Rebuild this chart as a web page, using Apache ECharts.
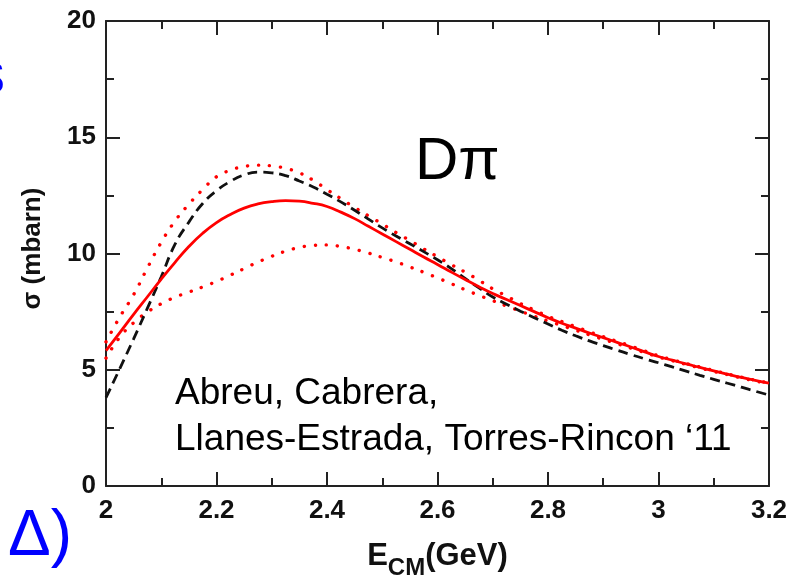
<!DOCTYPE html>
<html>
<head>
<meta charset="utf-8">
<script src="https://cdn.jsdelivr.net/npm/echarts@6/dist/echarts.min.js"></script>
<style>
html,body{margin:0;padding:0;background:#fff;}
#c{width:798px;height:578px;}
</style>
</head>
<body>
<div id="c"></div>
<script>
// Energies E_CM (GeV), 2.000 ... 3.200 in steps of 0.025
var energies = [2.000,2.025,2.050,2.075,2.100,2.125,2.150,2.175,2.200,2.225,2.250,2.275,2.300,2.325,2.350,2.375,2.400,2.425,2.450,2.475,2.500,2.525,2.550,2.575,2.600,2.625,2.650,2.675,2.700,2.725,2.750,2.775,2.800,2.825,2.850,2.875,2.900,2.925,2.950,2.975,3.000,3.025,3.050,3.075,3.100,3.125,3.150,3.175,3.200];
// Cross sections sigma (mbarn)
var solidRed    = [5.82,6.6,7.38,8.14,8.9,9.62,10.3,10.87,11.33,11.68,11.95,12.13,12.23,12.27,12.25,12.16,12.02,11.78,11.5,11.17,10.84,10.51,10.18,9.85,9.53,9.2,8.88,8.57,8.28,8.02,7.76,7.5,7.24,7.0,6.79,6.58,6.38,6.18,5.98,5.77,5.57,5.41,5.25,5.1,4.95,4.81,4.67,4.54,4.42];
var dashedBlack = [3.8,5.05,6.33,7.65,9.0,10.4,11.35,12.15,12.7,13.1,13.38,13.5,13.47,13.35,13.12,12.86,12.55,12.22,11.86,11.48,11.1,10.75,10.42,10.08,9.73,9.35,8.93,8.52,8.13,7.82,7.52,7.24,6.97,6.7,6.46,6.24,6.04,5.84,5.65,5.47,5.3,5.12,4.94,4.76,4.59,4.42,4.25,4.08,3.91];
var dottedUpper = [6.2,7.27,8.23,9.38,10.48,11.4,12.12,12.75,13.3,13.58,13.74,13.8,13.77,13.66,13.47,13.15,12.75,12.36,11.98,11.62,11.27,10.9,10.56,10.2,9.86,9.52,9.2,8.85,8.48,8.17,7.85,7.57,7.3,7.07,6.85,6.63,6.42,6.22,6.02,5.81,5.6,5.43,5.27,5.12,4.97,4.82,4.68,4.55,4.43];
var dottedLower = [5.5,6.4,7.02,7.48,7.84,8.12,8.34,8.56,8.8,9.07,9.35,9.63,9.88,10.1,10.26,10.35,10.37,10.3,10.18,10.02,9.83,9.64,9.42,9.19,8.95,8.7,8.44,8.2,7.97,7.74,7.52,7.3,7.1,6.9,6.7,6.5,6.31,6.12,5.93,5.74,5.55,5.39,5.23,5.08,4.93,4.79,4.65,4.52,4.4];
var xTicks = {min: 2, max: 3.2, interval: 0.2};
var yTicks = {min: 0, max: 20, interval: 5};

function pairs(ys){ return energies.map(function(x,i){ return [x, ys[i]]; }); }

var FONT = '"Liberation Sans", Arial, Helvetica, sans-serif';
var axisCol = '#222';

function xAxisDef(pos, showLabel){
  return {
    type:'value', position:pos, min:xTicks.min, max:xTicks.max, interval:xTicks.interval,
    axisLine:{show:true, onZero:false, lineStyle:{color:axisCol, width:2}},
    axisTick:{show:true, inside:true, length:14, lineStyle:{color:axisCol, width:2}},
    minorTick:{show:true, splitNumber:2, length:8, lineStyle:{color:axisCol, width:2}},
    splitLine:{show:false}, minorSplitLine:{show:false},
    axisLabel:{show:showLabel, margin:12, color:'#111', fontFamily:FONT, fontWeight:'bold', fontSize:26,
      formatter:function(v){ return String(Math.round(v*10)/10); }}
  };
}
function yAxisDef(pos, showLabel){
  return {
    type:'value', position:pos, min:yTicks.min, max:yTicks.max, interval:yTicks.interval,
    axisLine:{show:true, onZero:false, lineStyle:{color:axisCol, width:2}},
    axisTick:{show:true, inside:true, length:14, lineStyle:{color:axisCol, width:2}},
    minorTick:{show:true, splitNumber:2, length:8, lineStyle:{color:axisCol, width:2}},
    splitLine:{show:false}, minorSplitLine:{show:false},
    axisLabel:{show:showLabel, margin:10, color:'#111', fontFamily:FONT, fontWeight:'bold', fontSize:26}
  };
}

var xb = xAxisDef('bottom', true);
xb.name = '{a|E}{b|CM}{a|(GeV)}';
xb.nameLocation = 'middle';
xb.nameGap = 52;
xb.nameTextStyle = {rich:{
  a:{fontFamily:FONT, fontWeight:'bold', fontSize:31, color:'#111', verticalAlign:'bottom', lineHeight:34},
  b:{fontFamily:FONT, fontWeight:'bold', fontSize:24, color:'#111', verticalAlign:'bottom', padding:[0,0,-8,0], lineHeight:34}
}};
var yl = yAxisDef('left', true);
yl.name = 'σ (mbarn)';
yl.nameLocation = 'middle';
yl.nameGap = 60;
yl.nameTextStyle = {fontFamily:FONT, fontWeight:'bold', fontSize:26, color:'#111', padding:[0,0,0,10]};

var chart = echarts.init(document.getElementById('c'), null, {renderer:'canvas'});
chart.setOption({
  backgroundColor:'#fff',
  animation:false,
  grid:{left:106, right:29, top:21, bottom:92, containLabel:false, outerBoundsMode:'none'},
  xAxis:[xb, xAxisDef('top', false)],
  yAxis:[yl, yAxisDef('right', false)],
  series:[
    {type:'line', data:pairs(dottedUpper), smooth:0.5, symbol:'none',
     lineStyle:{color:'#ff0000', width:3.4, type:[0.1, 11], cap:'round'}},
    {type:'line', data:pairs(dottedLower), smooth:0.5, symbol:'none',
     lineStyle:{color:'#ff0000', width:3.4, type:[0.1, 11], cap:'round'}},
    {type:'line', data:pairs(dashedBlack), smooth:0.5, symbol:'none',
     lineStyle:{color:'#111', width:2.8, type:[10, 6]}},
    {type:'line', data:pairs(solidRed), smooth:0.5, symbol:'none',
     lineStyle:{color:'#ff0000', width:2.8}}
  ],
  graphic:[
    {type:'text', left:415, top:132, style:{text:'Dπ', font:'60px '+FONT, fill:'#000'}},
    {type:'text', left:175, top:375, style:{text:'Abreu, Cabrera,', font:'37px '+FONT, fill:'#000'}},
    {type:'text', left:175, top:421, style:{text:'Llanes-Estrada, Torres-Rincon \u201811', font:'37px '+FONT, fill:'#000'}},
    {type:'text', left:8, top:505, style:{text:'Δ)', font:'64px '+FONT, fill:'#0000ff'}},
    {type:'text', left:-25, top:46, style:{text:'s', font:'60px '+FONT, fill:'#0000ff'}}
  ]
});
</script>
</body>
</html>
